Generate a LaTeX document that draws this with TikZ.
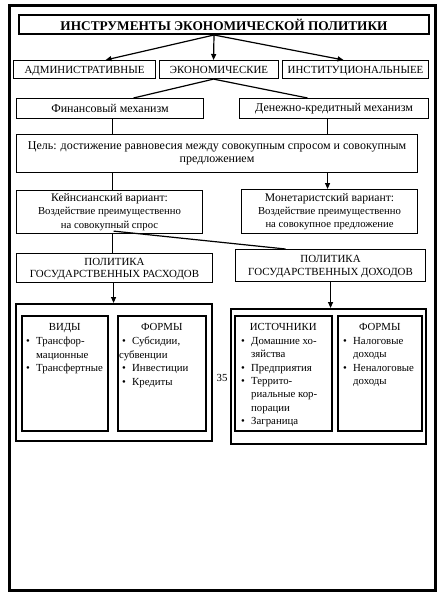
\documentclass[tikz,border=0pt]{standalone}
\usepackage{fontspec}
\setmainfont{Liberation Serif}
\usetikzlibrary{arrows.meta,calc}
\newcommand{\bl}[1]{\makebox[10pt][l]{•}#1}
\newcommand{\ct}[1]{\hspace*{10pt}#1}
\begin{document}
\begin{tikzpicture}[x=1pt,y=-1pt,
  box/.style={draw, line width=1.1pt, inner sep=0pt, anchor=north west, align=center},
  big/.style={draw, line width=1.5pt, inner sep=0pt, anchor=north west},
  arr/.style={line width=1.2pt, -{Triangle[length=6pt,width=5pt]}},
  ln/.style={line width=1.2pt},
  caps/.style={font=\fontsize{10.9}{12.5}\selectfont, text depth=0pt},
  txt/.style={font=\fontsize{12}{13}\selectfont},
  lst/.style={inner sep=0pt, anchor=north west, align=left, font=\fontsize{10.8}{13.4}\selectfont},
  hd/.style={inner sep=0pt, anchor=north, font=\fontsize{10.8}{13.4}\selectfont},
]
\useasboundingbox (0,0) rectangle (447,605);
\fill[white] (0,0) rectangle (447,605);
\node[draw, line width=2.5pt, minimum width=426pt, minimum height=585pt, anchor=north west, inner sep=0pt] (frame) at (8,4) {};

\node[box, line width=2pt, minimum width=410pt, minimum height=19pt, font=\bfseries\fontsize{13.3}{15}\selectfont] (title) at (18,14) {ИНСТРУМЕНТЫ ЭКОНОМИЧЕСКОЙ ПОЛИТИКИ};

\node[box, caps, minimum width=142pt, minimum height=18pt] (admin) at (13,60) {АДМИНИСТРАТИВНЫЕ};
\node[box, caps, minimum width=119pt, minimum height=18pt] (econ) at (159,60) {ЭКОНОМИЧЕСКИЕ};
\node[box, caps, minimum width=146pt, minimum height=18pt] (inst) at (282,60) {ИНСТИТУЦИОНАЛЬНЫЕЕ};

\draw[arr] ([xshift=-10pt]title.south) -- ([xshift=21pt]admin.north);
\draw[arr] ([xshift=-10pt]title.south) -- ([xshift=-5.5pt]econ.north);
\draw[arr] ([xshift=-10pt]title.south) -- ([xshift=-12pt]inst.north);

\node[box, txt, minimum width=187pt, minimum height=20pt] (fin) at (16,98) {Финансовый механизм};
\node[box, txt, minimum width=189pt, minimum height=20pt] (den) at (239,98) {Денежно-кредитный механизм};

\draw[ln] ([xshift=-5.5pt]econ.south) -- ([xshift=23.5pt]fin.north);
\draw[ln] ([xshift=-5.5pt]econ.south) -- ([xshift=-26.5pt]den.north);

\node[box, txt, minimum width=401pt, minimum height=38pt] (tsel) at (16,134) {Цель: достижение равновесия между совокупным спросом и совокупным\\предложением};

\coordinate (f1) at ([xshift=2.5pt]fin.south);
\coordinate (d1) at ([xshift=-6.5pt]den.south);
\draw[ln] (f1) -- (f1 |- tsel.north);
\draw[ln] (d1) -- (d1 |- tsel.north);

\node[box, minimum width=186pt, minimum height=43pt] (keyn) at (16,190) {{\fontsize{11.7}{12.5}\selectfont Кейнсианский вариант:}\\[1.2pt]{\fontsize{10.7}{12.5}\selectfont Воздействие преимущественно}\\[1.2pt]{\fontsize{10.7}{12.5}\selectfont на совокупный спрос}};
\node[box, minimum width=176pt, minimum height=44pt] (mon) at (241,189) {{\fontsize{11.7}{12.5}\selectfont Монетаристский вариант:}\\[1.2pt]{\fontsize{10.7}{12.5}\selectfont Воздействие преимущественно}\\[1.2pt]{\fontsize{10.7}{12.5}\selectfont на совокупное предложение}};

\coordinate (t1) at (tsel.south -| f1);
\coordinate (t2) at (tsel.south -| d1);
\draw[ln] (t1) -- (t1 |- keyn.north);
\draw[arr] (t2) -- (t2 |- mon.north);

\node[box, caps, minimum width=196pt, minimum height=29pt] (polr) at (16,253) {ПОЛИТИКА\\ГОСУДАРСТВЕННЫХ РАСХОДОВ};
\node[box, caps, minimum width=190pt, minimum height=32pt] (pold) at (235,249) {ПОЛИТИКА\\ГОСУДАРСТВЕННЫХ ДОХОДОВ};

\coordinate (k1) at (keyn.south -| f1);
\draw[ln] (k1) -- (k1 |- polr.north);
\draw[ln] ([xshift=1pt,yshift=3pt]k1) -- ([xshift=-45pt]pold.north);

\node[big, minimum width=196pt, minimum height=137pt] (bigl) at (15,303) {};
\node[big, minimum width=195pt, minimum height=135pt] (bigr) at (230,308) {};

\coordinate (p1) at ([xshift=-1pt]polr.south);
\draw[arr] (p1) -- (p1 |- bigl.north);
\coordinate (p3) at (pold.south);
\draw[arr] (p3) -- (p3 |- bigr.north);

\node[big, minimum width=86pt, minimum height=115pt] (vidy) at (21,315) {};
\node[big, minimum width=88pt, minimum height=115pt] (forml) at (117,315) {};
\node[big, minimum width=97pt, minimum height=115pt] (ist) at (234,315) {};
\node[big, minimum width=84pt, minimum height=115pt] (formr) at (337,315) {};

\node[hd] (vidyh) at ([yshift=-8pt]vidy.north) {ВИДЫ};
\node[lst] (vidyl) at (26,337) {\bl{Трансфор-}\\\ct{мационные}\\\bl{Трансфертные}};

\node[hd] (formlh) at ([yshift=-8pt]forml.north) {ФОРМЫ};
\node[lst] (formll) at (119,337) {\hspace*{3pt}\bl{Субсидии,}\\субвенции\\\hspace*{3pt}\bl{Инвестиции}\\\hspace*{3pt}\bl{Кредиты}};

\node[hd] (isth) at ([yshift=-8pt]ist.north) {ИСТОЧНИКИ};
\node[lst] (istl) at (241,337) {\bl{Домашние хо-}\\\ct{зяйства}\\\bl{Предприятия}\\\bl{Террито-}\\\ct{риальные кор-}\\\ct{порации}\\\bl{Заграница}};

\node[hd] (formrh) at ([yshift=-8pt]formr.north) {ФОРМЫ};
\node[lst] (formrl) at (343,337) {\bl{Налоговые}\\\ct{доходы}\\\bl{Неналоговые}\\\ct{доходы}};

\node[inner sep=0pt, font=\fontsize{10.8}{12}\selectfont] (pg) at (222,378) {35};
\end{tikzpicture}
\end{document}
